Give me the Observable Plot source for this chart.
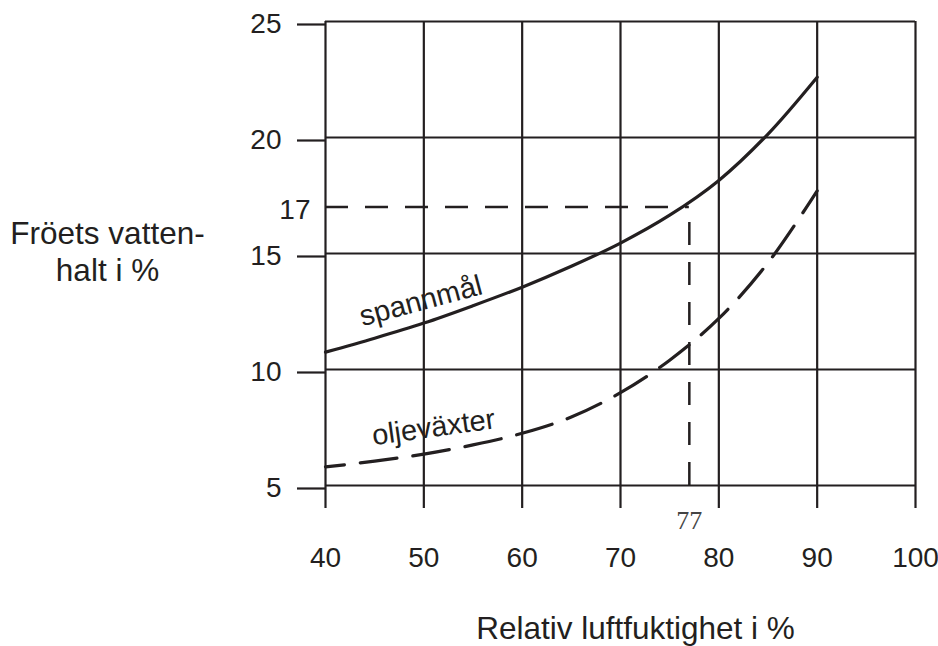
<!DOCTYPE html>
<html><head><meta charset="utf-8">
<script src="https://cdn.jsdelivr.net/npm/d3@7"></script>
<script src="https://cdn.jsdelivr.net/npm/@observablehq/plot@0.6"></script>
<style>body{margin:0;background:#fff}</style>
</head><body><div id="chart"></div>
<script>
// Data
const humidity   = [40, 45, 50, 55, 60, 65, 70, 75, 80, 85, 90];
const spannmal   = [10.75, 11.35, 12.0, 12.75, 13.55, 14.45, 15.45, 16.65, 18.15, 20.15, 22.6];
const oljevaxter = [5.8, 6.05, 6.35, 6.75, 7.25, 7.95, 9.0, 10.4, 12.2, 14.6, 17.7];
const xTicks = [40, 50, 60, 70, 80, 90, 100];
const yTicks = [5, 10, 15, 20, 25];
const markX = 77, markY = 17;
const xTitle = "Relativ luftfuktighet i %";
const yTitle = ["Fröets vatten-", "halt i %"];
const seriesNames = ["spannmål", "oljeväxter"];
const labelX = [49.7, 51.0];
const labelY = [12.95, 7.5];
const labelAngle = [-15, -8];

const ink = "#231f20";
const sp = humidity.map((h, i) => ({x: h, y: spannmal[i]}));
const ol = humidity.map((h, i) => ({x: h, y: oljevaxter[i]}));

const chart = Plot.plot({
  width: 938, height: 646,
  marginLeft: 325, marginRight: 23, marginTop: 21, marginBottom: 161,
  style: {fontFamily: "'Liberation Sans', Arial, Helvetica, sans-serif", color: ink, background: "#fff", overflow: "visible"},
  x: {domain: [xTicks[0], xTicks[xTicks.length - 1]]},
  y: {domain: [yTicks[0], yTicks[yTicks.length - 1]]},
  marks: [
    Plot.gridX(xTicks, {stroke: ink, strokeOpacity: 1, strokeWidth: 2.2}),
    Plot.gridY(yTicks, {stroke: ink, strokeOpacity: 1, strokeWidth: 2.2}),
    Plot.axisX(xTicks, {tickSize: 23, tickPadding: 39, fontSize: 28, stroke: ink, strokeWidth: 2.2, label: null, tickFormat: d => String(d)}),
    Plot.axisY(yTicks, {tickSize: 28, tickPadding: 16, fontSize: 28, dy: 3, stroke: ink, strokeWidth: 2.2, label: null, tickFormat: d => String(d)}),
    // reference lines at 77 % / 17 %
    Plot.ruleY([markY], {x1: xTicks[0], x2: markX, stroke: ink, strokeWidth: 2.5, strokeDasharray: "23,17"}),
    Plot.ruleX([markX], {y1: yTicks[0], y2: markY, stroke: ink, strokeWidth: 2.5, strokeDasharray: "23,17"}),
    Plot.text([markY], {x: xTicks[0], y: d => d, text: d => String(d), textAnchor: "end", dx: -15, dy: 3, fontSize: 28, fill: ink}),
    Plot.text([markX], {x: d => d, y: yTicks[0], text: d => String(d), dy: 35, fontSize: 26, fontFamily: "'Liberation Serif', 'Times New Roman', serif", fill: "#444"}),
    // curves
    Plot.line(sp, {x: "x", y: "y", curve: "catmull-rom", stroke: ink, strokeWidth: 3.2}),
    Plot.line(ol, {x: "x", y: "y", curve: "catmull-rom", stroke: ink, strokeWidth: 3.2, strokeDasharray: "37,16", strokeDashoffset: 18}),
    // curve labels
    Plot.text([0], {x: () => labelX[0], y: () => labelY[0], text: () => seriesNames[0], rotate: labelAngle[0], fontSize: 29, fill: ink}),
    Plot.text([1], {x: () => labelX[1], y: () => labelY[1], text: () => seriesNames[1], rotate: labelAngle[1], fontSize: 29, fill: ink}),
    // axis titles
    Plot.text([xTitle], {frameAnchor: "bottom", text: d => d, textAnchor: "middle", dx: 15, dy: 153, fontSize: 31.5, fill: ink}),
    Plot.text([yTitle.join("\n")], {frameAnchor: "left", text: d => d, textAnchor: "middle", dx: -218, dy: -3, lineHeight: 1.18, fontSize: 31.5, fill: ink})
  ]
});
document.getElementById("chart").appendChild(chart);
</script>
</body></html>
